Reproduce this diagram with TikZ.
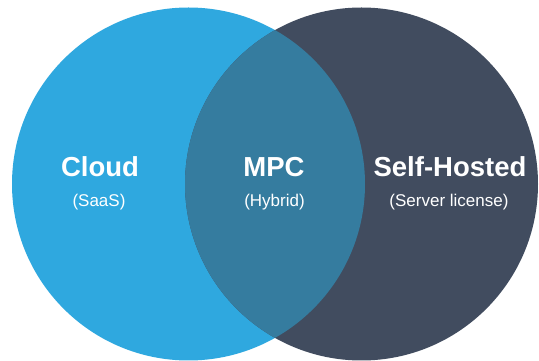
\documentclass[tikz,border=0pt]{standalone}
\usepackage{fontspec}
\setmainfont{Liberation Sans}
\definecolor{cloudblue}{HTML}{2FA8DF}
\definecolor{selfdark}{HTML}{414C5F}
\definecolor{mpcmix}{HTML}{357C9F}
\begin{document}
\begin{tikzpicture}[x=1pt,y=1pt,
  title/.style={text=white,font=\bfseries\fontsize{27.5}{32}\selectfont,anchor=base,inner sep=0pt},
  sub/.style={text=white,font=\fontsize{17}{20}\selectfont,anchor=base,inner sep=0pt}]
\useasboundingbox (0,0) rectangle (539,361);
\fill[white] (0,0) rectangle (539,361);
\coordinate (cl) at (188.5,177);
\coordinate (cr) at (361.5,177);
\fill[cloudblue] (cl) circle (176.5);
\fill[selfdark] (cr) circle (176.5);
\begin{scope}
  \clip (cl) circle (176.5);
  \fill[mpcmix] (cr) circle (176.5);
\end{scope}
\node[title] (cloud) at (100,184) {Cloud};
\node[sub] (saas) at (99,154) {(SaaS)};
\node[title] (mpc) at (274,184) {MPC};
\node[sub] (hybrid) at (274.5,154) {(Hybrid)};
\node[title] (self) at (450,184) {Self-Hosted};
\node[sub] (server) at (449,154) {(Server license)};
\end{tikzpicture}
\end{document}
